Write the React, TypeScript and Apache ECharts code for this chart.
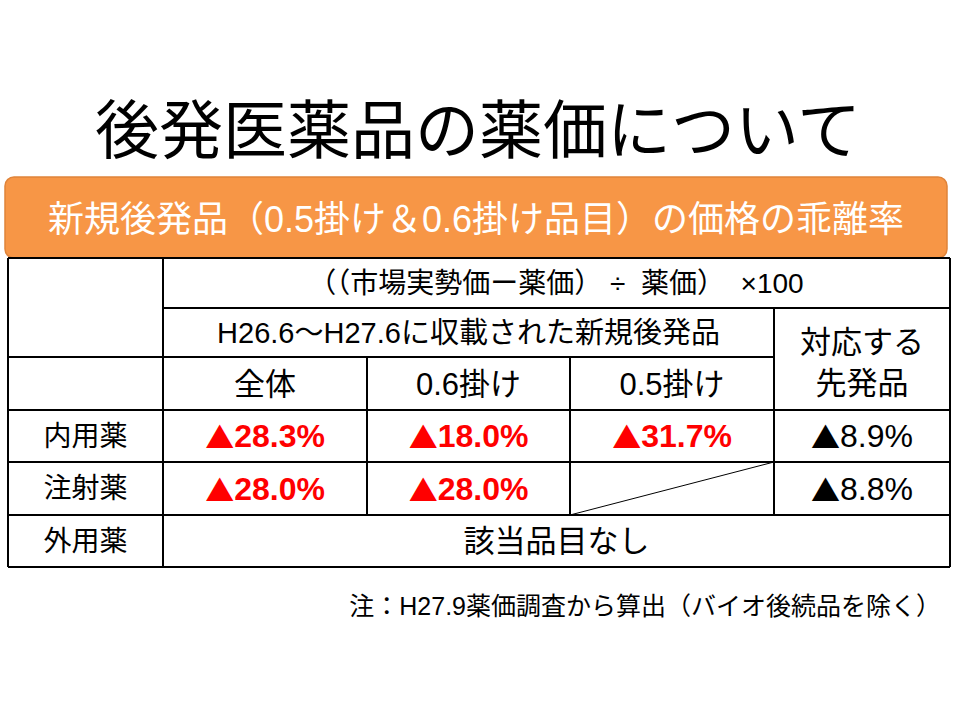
import React, { useEffect, useRef } from "react";
import * as echarts from "echarts";

const titleText = "後発医薬品の薬価について";
const bannerText = "新規後発品（0.5掛け＆0.6掛け品目）の価格の乖離率";
const formulaText = "（（市場実勢価ー薬価） ÷  薬価）  ×100";
const periodText = "H26.6～H27.6に収載された新規後発品";
const originalHeader = ["対応する", "先発品"];
const columns = ["全体", "0.6掛け", "0.5掛け"];
const rowLabels = ["内用薬", "注射薬", "外用薬"];
// values: null = not applicable
const genericValues: (string | null)[][] = [
  ["28.3%", "18.0%", "31.7%"],
  ["28.0%", "28.0%", null],
];
const originalValues = ["8.9%", "8.8%"];
const deltaMark = "▲";
const noneText = "該当品目なし";
const noteText = "注：H27.9薬価調査から算出（バイオ後続品を除く）";

const colX = [8, 163, 367, 570, 774, 950];
const rowY = [258, 308, 357, 410, 462, 515, 567];

const JP = '"Liberation Sans", "Noto Sans CJK JP", sans-serif';
const CJK = '"Noto Sans CJK JP", sans-serif';

function txt(text: string, x: number, y: number, size: number, opts: any = {}) {
  return {
    type: "text",
    x,
    y,
    style: {
      text,
      fontSize: size,
      fontFamily: opts.family || JP,
      fontWeight: opts.weight || "normal",
      fill: opts.fill || "#000",
      align: opts.align || "center",
      textAlign: opts.align || "center",
      verticalAlign: "middle",
      textVerticalAlign: "middle",
    },
  };
}

function valueText(v: string, x: number, y: number, color: string, weight: string) {
  return {
    type: "text",
    x,
    y,
    style: {
      text: `{m|${deltaMark}}{v|${v}}`,
      align: "center",
      textAlign: "center",
      verticalAlign: "middle",
      textVerticalAlign: "middle",
      rich: {
        m: { fontSize: 29, fontFamily: CJK, fill: color, color, verticalAlign: "middle" },
        v: {
          fontSize: 32,
          fontFamily: '"Liberation Sans", sans-serif',
          fontWeight: weight,
          fill: color,
          color,
          verticalAlign: "middle",
        },
      },
    },
  };
}

function ln(x1: number, y1: number, x2: number, y2: number, w = 2) {
  return {
    type: "line",
    shape: { x1, y1, x2, y2 },
    style: { stroke: "#000", lineWidth: w },
  };
}

export default function App() {
  const ref = useRef<HTMLDivElement>(null);
  useEffect(() => {
    if (!ref.current) return;
    const chart = echarts.init(ref.current, null, { renderer: "svg" });
    const els: any[] = [];
    els.push(txt(titleText, 478, 125, 64, { family: CJK }));
    els.push({
      type: "rect",
      shape: { x: 5, y: 177, width: 942, height: 81, r: 9 },
      style: { fill: "#F79646", stroke: "#E0843A", lineWidth: 1.5 },
    });
    els.push(txt(bannerText, 476, 219, 36, { fill: "#fff" }));

    // grid lines
    const L = colX[0], R = colX[5];
    els.push(ln(L, rowY[0], R, rowY[0]));
    els.push(ln(colX[1], rowY[1], R, rowY[1]));
    els.push(ln(L, rowY[2], colX[4], rowY[2]));
    for (let i = 3; i < rowY.length; i++) els.push(ln(L, rowY[i], R, rowY[i]));
    els.push(ln(L, rowY[0], L, rowY[6]));
    els.push(ln(colX[1], rowY[0], colX[1], rowY[6]));
    els.push(ln(colX[2], rowY[2], colX[2], rowY[5]));
    els.push(ln(colX[3], rowY[2], colX[3], rowY[5]));
    els.push(ln(colX[4], rowY[1], colX[4], rowY[5]));
    els.push(ln(R, rowY[0], R, rowY[6]));

    const cx = (i: number, j: number) => (colX[i] + colX[j]) / 2;
    const cy = (i: number, j: number) => (rowY[i] + rowY[j]) / 2;

    els.push(txt(formulaText, 556, cy(0, 1), 28));
    els.push(txt(periodText, cx(1, 4), cy(1, 2), 29));
    els.push(txt(originalHeader[0], cx(4, 5), 342, 31));
    els.push(txt(originalHeader[1], cx(4, 5), 383, 31));
    columns.forEach((c, k) => els.push(txt(c, cx(k + 1, k + 2), cy(2, 3) + 1, 31)));
    rowLabels.forEach((r, k) => els.push(txt(r, cx(0, 1), cy(3 + k, 4 + k), 28)));

    genericValues.forEach((row, r) => {
      row.forEach((v, c) => {
        if (v === null) {
          els.push(ln(colX[c + 1], rowY[4 + r], colX[c + 2], rowY[3 + r], 1));
        } else {
          els.push(valueText(v, cx(c + 1, c + 2), cy(3 + r, 4 + r), "#FF0000", "bold"));
        }
      });
    });
    originalValues.forEach((v, r) =>
      els.push(valueText(v, cx(4, 5), cy(3 + r, 4 + r), "#000", "normal"))
    );
    els.push(txt(noneText, cx(1, 5), cy(5, 6), 31));
    els.push(txt(noteText, 941, 606, 25, { align: "right" }));

    chart.setOption({ animation: false, backgroundColor: "#fff", graphic: { elements: els } });
    return () => chart.dispose();
  }, []);
  return (
    <div
      ref={ref}
      style={{ position: "fixed", left: 0, top: 0, width: 960, height: 720 }}
    />
  );
}
